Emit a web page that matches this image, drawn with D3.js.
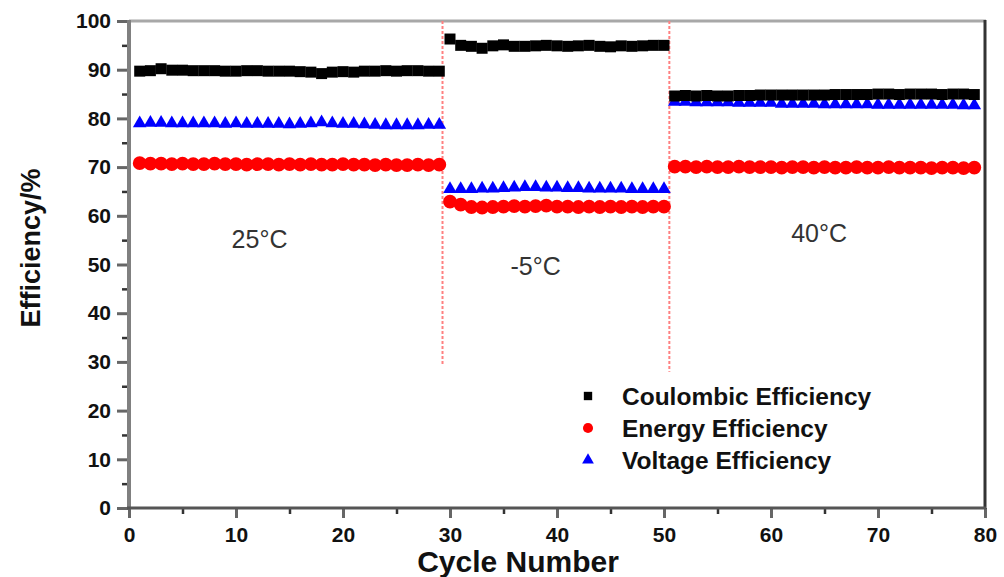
<!DOCTYPE html>
<html>
<head>
<meta charset="utf-8">
<script src="https://cdnjs.cloudflare.com/ajax/libs/d3/7.8.5/d3.min.js"></script>
<style>
  body { margin: 0; background: #fff; }
  text { font-family: "Liberation Sans", Arial, sans-serif; }
  .tick text { font-weight: bold; font-size: 21px; fill: #111; }
  .domain { display: none; }
</style>
</head>
<body>
<svg id="chart" width="1004" height="577"></svg>
<script>
// cycle numbers for each temperature stage
var cycles25 = [1,2,3,4,5,6,7,8,9,10,11,12,13,14,15,16,17,18,19,20,21,22,23,24,25,26,27,28,29];
var cyclesM5 = [30,31,32,33,34,35,36,37,38,39,40,41,42,43,44,45,46,47,48,49,50];
var cycles40 = [51,52,53,54,55,56,57,58,59,60,61,62,63,64,65,66,67,68,69,70,71,72,73,74,75,76,77,78,79];

var coulombic = [
  89.7, 89.8, 90.2, 89.9, 89.9, 89.8, 89.8, 89.8, 89.7, 89.7, 89.8, 89.8, 89.7, 89.7, 89.7,
  89.6, 89.5, 89.2, 89.5, 89.6, 89.5, 89.7, 89.7, 89.8, 89.7, 89.8, 89.8, 89.7, 89.7,
  96.3, 95.0, 94.8, 94.4, 94.9, 95.1, 94.8, 94.8, 94.9, 95.0, 94.9, 94.8, 94.9, 95.0, 94.8,
  94.7, 94.9, 94.8, 94.9, 95.0, 95.0,
  84.6, 84.7, 84.6, 84.7, 84.6, 84.6, 84.7, 84.7, 84.8, 84.8, 84.8, 84.8, 84.8, 84.8, 84.8,
  84.9, 84.9, 84.9, 84.9, 85.0, 85.0, 84.9, 85.0, 85.0, 85.0, 84.9, 85.0, 85.0, 84.9
];
var energy = [
  70.8, 70.7, 70.7, 70.6, 70.7, 70.6, 70.6, 70.7, 70.6, 70.6, 70.5, 70.6, 70.6, 70.5, 70.6,
  70.5, 70.6, 70.5, 70.5, 70.6, 70.5, 70.5, 70.4, 70.5, 70.4, 70.4, 70.5, 70.4, 70.5,
  62.9, 62.3, 61.8, 61.7, 61.8, 61.9, 62.0, 61.9, 62.0, 62.1, 61.9, 61.9, 61.8, 61.9, 61.8,
  61.9, 61.8, 61.9, 61.8, 61.9, 61.9,
  70.1, 70.1, 70.0, 70.1, 70.0, 70.0, 70.1, 70.0, 70.0, 70.0, 69.9, 70.0, 70.0, 69.9, 70.0,
  69.9, 69.9, 70.0, 69.9, 69.9, 70.0, 69.9, 69.9, 69.9, 69.8, 69.9, 69.9, 69.8, 69.9
];
var voltage = [
  79.0, 79.1, 79.1, 79.0, 79.0, 79.0, 79.0, 79.0, 78.9, 79.0, 78.9, 78.9, 78.9, 78.9, 78.8,
  78.9, 79.0, 79.2, 79.0, 78.9, 78.9, 78.8, 78.7, 78.6, 78.6, 78.6, 78.6, 78.7, 78.7,
  65.5, 65.5, 65.5, 65.6, 65.6, 65.7, 65.8, 65.9, 65.9, 65.8, 65.8, 65.7, 65.7, 65.6, 65.6,
  65.6, 65.6, 65.5, 65.5, 65.5, 65.5,
  83.4, 83.4, 83.3, 83.3, 83.3, 83.3, 83.2, 83.2, 83.2, 83.2, 83.0, 83.0, 83.0, 83.0, 82.9,
  82.9, 82.9, 82.9, 82.9, 82.8, 82.8, 82.8, 82.8, 82.8, 82.8, 82.8, 82.8, 82.7, 82.7
];

var xTicks = [0, 10, 20, 30, 40, 50, 60, 70, 80];
var yTicks = [0, 10, 20, 30, 40, 50, 60, 70, 80, 90, 100];
var stageBreaks = [29.3, 50.5];
var stageLabels = [
  { cycle: 12.2, value: 53.4, text: "25°C" },
  { cycle: 38, value: 47.8, text: "-5°C" },
  { cycle: 64.5, value: 54.7, text: "40°C" }
];
var seriesNames = ["Coulombic Efficiency", "Energy Efficiency", "Voltage Efficiency"];

var cycles = cycles25.concat(cyclesM5, cycles40);

var svg = d3.select("#chart");
var xScale = d3.scaleLinear().domain([0, 80]).range([129, 985]);
var yScale = d3.scaleLinear().domain([0, 100]).range([508, 21]);

// minor ticks
svg.append("g")
  .attr("transform", "translate(129,0)")
  .call(d3.axisLeft(yScale).tickValues(d3.range(5, 100, 10)).tickSize(7).tickFormat(""))
  .selectAll("line").attr("stroke", "#333").attr("stroke-width", 2.5);
svg.append("g")
  .attr("transform", "translate(0,508)")
  .call(d3.axisBottom(xScale).tickValues(d3.range(5, 80, 10)).tickSize(6).tickFormat(""))
  .selectAll("line").attr("stroke", "#333").attr("stroke-width", 2.5);

// major ticks
var yAxisG = svg.append("g")
  .attr("transform", "translate(129,0)")
  .call(d3.axisLeft(yScale).tickValues(yTicks).tickSize(12).tickPadding(6));
yAxisG.selectAll("line").attr("stroke", "#666").attr("stroke-width", 3);

var xAxisG = svg.append("g")
  .attr("transform", "translate(0,508)")
  .call(d3.axisBottom(xScale).tickValues(xTicks).tickSize(10).tickPadding(9));
xAxisG.selectAll("line").attr("stroke", "#666").attr("stroke-width", 3);

// frame
svg.append("line").attr("x1", 129).attr("x2", 986).attr("y1", 21).attr("y2", 21)
  .attr("stroke", "#a8a8a8").attr("stroke-width", 3);
svg.append("line").attr("x1", 985).attr("x2", 985).attr("y1", 20).attr("y2", 509)
  .attr("stroke", "#333").attr("stroke-width", 3);
svg.append("line").attr("x1", 129).attr("x2", 129).attr("y1", 20).attr("y2", 509)
  .attr("stroke", "#808080").attr("stroke-width", 4);
svg.append("line").attr("x1", 127).attr("x2", 986).attr("y1", 508).attr("y2", 508)
  .attr("stroke", "#555").attr("stroke-width", 3);

// stage separators
svg.selectAll(".sep").data(stageBreaks).enter().append("line")
  .attr("x1", d => xScale(d)).attr("x2", d => xScale(d))
  .attr("y1", yScale(100)).attr("y2", (d, i) => yScale(i ? 28 : 29.3))
  .attr("stroke", "#ff8080").attr("stroke-width", 2).attr("stroke-dasharray", "3,2");

// series markers
var sq = d3.symbol().type(d3.symbolSquare).size(121);
var circ = d3.symbol().type(d3.symbolCircle).size(150);
var tri = d3.symbol().type(d3.symbolTriangle).size(80);

svg.append("g").selectAll("path").data(voltage).enter().append("path")
  .attr("d", tri)
  .attr("transform", (d, i) => "translate(" + xScale(cycles[i]) + "," + yScale(d) + ")")
  .attr("fill", "#0000ff");
svg.append("g").selectAll("path").data(energy).enter().append("path")
  .attr("d", circ)
  .attr("transform", (d, i) => "translate(" + xScale(cycles[i]) + "," + yScale(d) + ")")
  .attr("fill", "#ff0000");
svg.append("g").selectAll("path").data(coulombic).enter().append("path")
  .attr("d", sq)
  .attr("transform", (d, i) => "translate(" + xScale(cycles[i]) + "," + yScale(d) + ")")
  .attr("fill", "#000");

// stage labels
svg.selectAll(".stage").data(stageLabels).enter().append("text")
  .attr("x", d => xScale(d.cycle)).attr("y", d => yScale(d.value))
  .attr("text-anchor", "middle")
  .attr("font-size", 25).attr("fill", "#333")
  .text(d => d.text);

// legend
var legend = svg.append("g").attr("transform", "translate(588,396)");
var legendSymbols = [
  { sym: d3.symbol().type(d3.symbolSquare).size(70), fill: "#000" },
  { sym: d3.symbol().type(d3.symbolCircle).size(80), fill: "#ff0000" },
  { sym: d3.symbol().type(d3.symbolTriangle).size(60), fill: "#0000ff" }
];
seriesNames.forEach(function (name, i) {
  var row = legend.append("g").attr("transform", "translate(0," + (i * 32) + ")");
  row.append("path").attr("d", legendSymbols[i].sym).attr("fill", legendSymbols[i].fill);
  row.append("text").attr("x", 34).attr("y", 9)
    .attr("font-size", 24.5).attr("font-weight", "bold").attr("fill", "#111")
    .text(name);
});

// axis titles
svg.append("text")
  .attr("x", 518).attr("y", 572)
  .attr("text-anchor", "middle")
  .attr("font-size", 30).attr("font-weight", "bold").attr("fill", "#111")
  .text("Cycle Number");
svg.append("text")
  .attr("transform", "translate(40,248) rotate(-90)")
  .attr("text-anchor", "middle")
  .attr("font-size", 27).attr("font-weight", "bold").attr("fill", "#111")
  .text("Efficiency/%");
</script>
</body>
</html>
